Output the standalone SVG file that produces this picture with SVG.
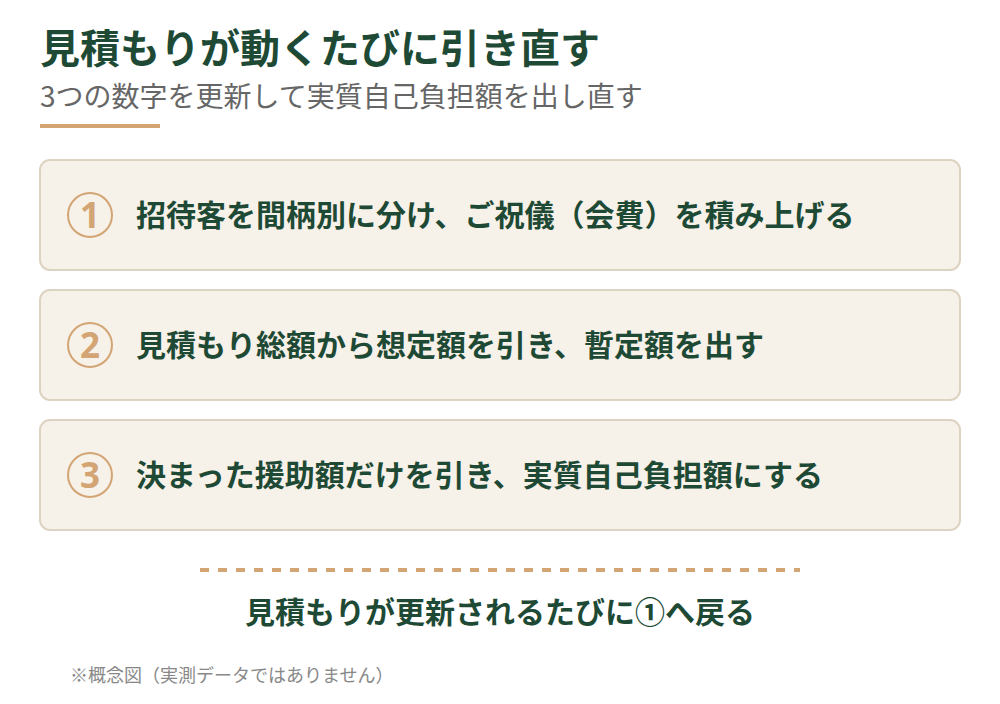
<svg xmlns="http://www.w3.org/2000/svg" width="1000" height="704" viewBox="0 0 1000 704">
<style>
text{font-family:"Noto Sans CJK JP","Noto Sans",sans-serif}
.title{font-size:40px;font-weight:700;fill:#1e4a35}
.sub{font-size:28px;font-weight:400;fill:#666666}
.box{fill:#f6f1e9;stroke:#ddd3c2;stroke-width:2}
.ring{fill:none;stroke:#d4a574;stroke-width:2}
.num{font-size:35px;font-weight:700;fill:#d4a574;text-anchor:middle;font-family:"Noto Sans","Liberation Sans",sans-serif}
.lbl{font-size:30px;font-weight:700;fill:#1e4a35}
.back{font-size:30px;font-weight:700;fill:#1e4a35;text-anchor:middle}
.note{font-size:18px;fill:#888888}
</style>
<rect width="1000" height="704" fill="#ffffff"/>
<g id="header">
<text class="title" x="40" y="63">見積もりが動くたびに引き直す</text>
<text class="sub" x="40" y="107">3つの数字を更新して実質自己負担額を出し直す</text>
<rect x="40" y="124" width="120" height="4" fill="#d4a574"/>
</g>
<g id="step1">
<rect class="box" x="40" y="160" width="920" height="110" rx="10"/>
<circle class="ring" cx="90" cy="215" r="22"/>
<text class="num" x="90" y="228">1</text>
<text class="lbl" x="136" y="226">招待客を間柄別に分け、ご祝儀（会費）を積み上げる</text>
</g>
<g id="step2">
<rect class="box" x="40" y="290" width="920" height="110" rx="10"/>
<circle class="ring" cx="90" cy="345" r="22"/>
<text class="num" x="90" y="358">2</text>
<text class="lbl" x="136" y="356">見積もり総額から想定額を引き、暫定額を出す</text>
</g>
<g id="step3">
<rect class="box" x="40" y="420" width="920" height="110" rx="10"/>
<circle class="ring" cx="90" cy="475" r="22"/>
<text class="num" x="90" y="488">3</text>
<text class="lbl" x="136" y="486">決まった援助額だけを引き、実質自己負担額にする</text>
</g>
<g id="connectors">
<line x1="200" y1="570" x2="800" y2="570" stroke="#d4a574" stroke-width="4" stroke-dasharray="9 9"/>
</g>
<g id="loop">
<text class="back" x="500" y="623">見積もりが更新されるたびに①へ戻る</text>
</g>
<g id="footnote">
<text class="note" x="70" y="682">※概念図（実測データではありません）</text>
</g>
</svg>
